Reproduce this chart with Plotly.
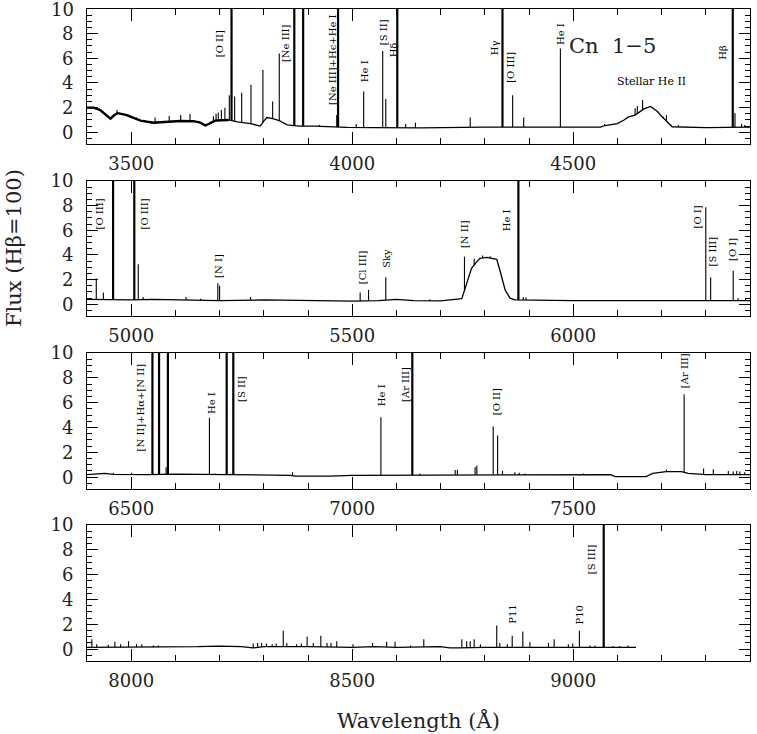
import numpy as np
import plotly.graph_objects as go

# ---------------- data ----------------
panel_ranges = [(3400, 4900), (4900, 6400), (6400, 7900), (7900, 9400)]
y_ticks = [0, 2, 4, 6, 8, 10]
x_tick_labels = [[3500, 4000, 4500], [5000, 5500, 6000], [6500, 7000, 7500], [8000, 8500, 9000]]
OFF = 14.0  # lines that run off the top of a panel

# panel 1 continuum
cont1_wl = [3400, 3415, 3430, 3445, 3453, 3462, 3470, 3490, 3505, 3521, 3550, 3580, 3611, 3640, 3655,
            3668, 3680, 3690, 3720, 3740, 3770, 3792, 3800, 3807, 3820, 3835, 3853, 3880, 3913, 3950,
            3989, 4050, 4155, 4300, 4450, 4562, 4572, 4600, 4615, 4625, 4640, 4660, 4675, 4690, 4700,
            4713, 4724, 4800, 4860, 4900]
cont1_fx = [2.0, 2.0, 1.8, 1.3, 1.1, 1.4, 1.55, 1.4, 1.2, 0.95, 0.78, 0.85, 0.92, 0.9, 0.8,
            0.55, 0.75, 0.95, 1.0, 0.85, 0.7, 0.5, 0.9, 1.2, 1.1, 0.95, 0.6, 0.5, 0.5, 0.45,
            0.4, 0.38, 0.35, 0.42, 0.42, 0.42, 0.55, 0.7, 1.0, 1.25, 1.4, 1.9, 2.1, 1.7, 1.3,
            0.85, 0.45, 0.38, 0.38, 0.42]
weak1_wl = [3468, 3512, 3529, 3554, 3586, 3612, 3633, 3686, 3692, 3697, 3704, 3712, 3722, 3734, 3750,
            3771, 3798, 3820, 3835, 3926, 3965, 4009, 4026, 4069, 4076, 4121, 4143, 4267, 4363, 4388,
            4471, 4571, 4640, 4645, 4657, 4704, 4711, 4738, 4866, 4881, 4888]
weak1_pk = [1.8, 1.2, 1.0, 1.2, 1.32, 1.4, 1.48, 1.3, 1.5, 1.6, 1.8, 2.0, 3.0, 2.9, 3.2,
            3.85, 5.05, 2.5, 6.4, 0.6, 1.4, 0.67, 3.3, 6.6, 2.7, 0.67, 0.78, 1.2, 3.0, 1.2,
            6.8, 0.67, 1.95, 2.13, 2.62, 1.27, 1.4, 0.6, 1.54, 0.67, 0.6]
strong1_wl = [3727, 3869, 3889, 3968, 4102, 4340, 4861]

# panel 2 continuum
cont2_wl = [4900, 4950, 5000, 5050, 5100, 5200, 5300, 5400, 5500, 5560, 5600, 5640, 5700, 5748,
            5759, 5770, 5782, 5789, 5804, 5827, 5834, 5846, 5857, 5868, 6000, 6200, 6400]
cont2_fx = [0.4, 0.35, 0.35, 0.4, 0.35, 0.3, 0.35, 0.3, 0.25, 0.3, 0.4, 0.3, 0.28, 0.45,
            1.7, 2.92, 3.46, 3.73, 3.8, 3.65, 2.78, 1.16, 0.5, 0.35, 0.3, 0.28, 0.3]
weak2_wl = [4921, 4937, 5016, 5027, 5046, 5124, 5157, 5196, 5200, 5270, 5518, 5537, 5576, 5676,
            5754, 5776, 5795, 5800, 5812, 5887, 5893, 6300, 6311, 6362, 6373, 6390]
weak2_pk = [2.1, 0.95, 3.24, 0.6, 0.45, 0.6, 0.45, 1.7, 1.5, 0.6, 0.95, 1.16, 2.2, 0.4,
            3.86, 3.7, 3.95, 3.8, 3.9, 0.6, 0.55, 7.87, 2.19, 2.73, 0.5, 0.5]
strong2_wl = [4959, 5007, 5876]

# panel 3 continuum
cont3_wl = [6400, 6430, 6440, 6460, 6500, 6540, 6600, 6700, 6800, 6860, 6870, 6950, 7000, 7100,
            7200, 7300, 7400, 7500, 7585, 7595, 7665, 7680, 7710, 7745, 7760, 7800, 7900]
cont3_fx = [0.2, 0.25, 0.3, 0.22, 0.2, 0.2, 0.25, 0.2, 0.2, 0.15, 0.08, 0.08, 0.15, 0.15,
            0.2, 0.2, 0.2, 0.2, 0.2, 0.05, 0.05, 0.3, 0.45, 0.45, 0.3, 0.2, 0.2]
weak3_wl = [6460, 6501, 6579, 6677, 6690, 6865, 7065, 7153, 7233, 7238, 7278, 7282, 7319, 7329,
            7340, 7368, 7378, 7391, 7523, 7711, 7751, 7795, 7817, 7851, 7862, 7870, 7877, 7888]
weak3_pk = [0.35, 0.35, 0.8, 4.78, 0.3, 0.4, 4.83, 0.3, 0.57, 0.6, 0.8, 0.92, 4.08, 3.35,
            0.5, 0.4, 0.35, 0.3, 0.3, 0.6, 6.67, 0.7, 0.65, 0.5, 0.45, 0.5, 0.45, 0.4]
strong3_wl = [6548, 6563, 6583, 6716, 6731, 7136]

# panel 4 continuum
cont4_wl = [7900, 8000, 8100, 8150, 8200, 8250, 8275, 8300, 8400, 8500, 8550, 8600, 8700, 8720,
            8740, 8800, 8900, 9000, 9100, 9142]
cont4_fx = [0.15, 0.15, 0.15, 0.2, 0.25, 0.2, 0.1, 0.2, 0.2, 0.15, 0.2, 0.15, 0.2, 0.1,
            0.1, 0.15, 0.15, 0.15, 0.15, 0.15]
weak4_wl = [7911, 7922, 7948, 7963, 7976, 7994, 8012, 8024, 8050, 8061, 8276, 8286, 8295, 8306,
            8319, 8328, 8344, 8352, 8374, 8385, 8398, 8412, 8429, 8443, 8452, 8465, 8502, 8546,
            8578, 8597, 8632, 8662, 8748, 8759, 8767, 8776, 8790, 8827, 8834, 8851, 8862, 8886,
            8902, 8944, 8957, 8989, 8999, 9014, 9038, 9049, 9090, 9105, 9124]
weak4_pk = [0.81, 0.4, 0.35, 0.6, 0.4, 0.65, 0.4, 0.4, 0.3, 0.3, 0.45, 0.5, 0.5, 0.45,
            0.4, 0.45, 1.48, 0.5, 0.4, 0.45, 1.0, 0.5, 1.08, 0.5, 0.5, 0.65, 0.4, 0.5,
            0.6, 0.6, 0.3, 0.8, 0.8, 0.65, 0.65, 0.8, 0.4, 1.9, 0.5, 0.4, 1.08, 1.43,
            0.55, 0.5, 0.8, 0.4, 0.45, 1.48, 0.3, 0.3, 0.25, 0.25, 0.3]
strong4_wl = [9069]

# line identifications: (text, wavelength, flux position)
labels1 = [("[O II]", 3699, 7.16), ("[Ne III]", 3848, 7.24), ("[Ne III]+Hϵ+He I", 3954, 5.86),
           ("He I", 4027, 4.97), ("[S II]", 4070, 8.13), ("Hδ", 4093, 6.67), ("Hγ", 4321, 6.83),
           ("[O III]", 4359, 5.3), ("He I", 4470, 7.97), ("Hβ", 4838, 6.5)]
labels2 = [("[O III]", 4928, 7.32), ("[O III]", 5030, 7.32), ("[N I]", 5196, 3.1),
           ("[Cl III]", 5525, 3.03), ("Sky", 5576, 3.75), ("[N II]", 5753, 5.7), ("He I", 5851, 6.84),
           ("[O I]", 6279, 7.08), ("[S III]", 6315, 4.32), ("[O I]", 6359, 4.48)]
labels3 = [("[N II]+Hα+[N II]", 6520, 5.62), ("He I", 6682, 5.94), ("[S II]", 6750, 7.08),
           ("He I", 7067, 6.59), ("[Ar III]", 7119, 7.49), ("[O II]", 7327, 6.1), ("[Ar III]", 7751, 8.55)]
labels4 = [("P11", 8864, 2.78), ("P10", 9015, 2.78), ("[S III]", 9040, 7.24)]

object_name = "Cn  1−5"
bump_label = "Stellar He II"

panels = [
    (cont1_wl, cont1_fx, weak1_wl, weak1_pk, strong1_wl, labels1),
    (cont2_wl, cont2_fx, weak2_wl, weak2_pk, strong2_wl, labels2),
    (cont3_wl, cont3_fx, weak3_wl, weak3_pk, strong3_wl, labels3),
    (cont4_wl, cont4_fx, weak4_wl, weak4_pk, strong4_wl, labels4),
]

# ---------------- figure ----------------
W, H = 757, 734
ml, mr, mt, mb = 87, 7, 9, 73
plot_w = W - ml - mr
plot_h = H - mt - mb
panel_px = [(9, 144), (181, 316), (353, 489), (525, 661)]
YMIN, YMAX = -0.95, 10

SERIF = "DejaVu Serif"
TICKFONT = dict(family=SERIF, size=18, color="#222")
fig = go.Figure()
annotations = []

for i, (cw, cf, ww, wp, sw, labs) in enumerate(panels):
    n = i + 1
    xa = "x" if n == 1 else f"x{n}"
    ya = "y" if n == 1 else f"y{n}"

    # emission lines as vertical segments rising from the continuum
    lx, ly = [], []
    for lam, pk in zip(ww, wp):
        b = float(np.interp(lam, cw, cf))
        lx += [lam, lam, None]
        ly += [b, pk, None]
    sx, sy = [], []
    for lam in sw:
        b = float(np.interp(lam, cw, cf))
        sx += [lam, lam, None]
        sy += [b, OFF, None]

    fig.add_trace(go.Scatter(x=cw, y=cf, mode="lines", xaxis=xa, yaxis=ya,
                             line=dict(color="black", width=1.3), hoverinfo="skip", showlegend=False))
    if n == 1:
        # the noisy blue end of the spectrum is drawn heavier in the reference
        blue = [k for k, w in enumerate(cw) if w <= 3720]
        fig.add_trace(go.Scatter(x=[cw[k] for k in blue], y=[cf[k] for k in blue], mode="lines",
                                 xaxis=xa, yaxis=ya, line=dict(color="black", width=2.4),
                                 hoverinfo="skip", showlegend=False))
    fig.add_trace(go.Scatter(x=lx, y=ly, mode="lines", xaxis=xa, yaxis=ya,
                             line=dict(color="black", width=1.1), hoverinfo="skip", showlegend=False))
    fig.add_trace(go.Scatter(x=sx, y=sy, mode="lines", xaxis=xa, yaxis=ya,
                             line=dict(color="black", width=2.2), hoverinfo="skip", showlegend=False))

    top, bot = panel_px[i]
    dom = [(H - mb - bot) / plot_h, (H - mb - top) / plot_h]
    lo, hi = panel_ranges[i]
    xkey = "xaxis" if n == 1 else f"xaxis{n}"
    ykey = "yaxis" if n == 1 else f"yaxis{n}"
    fig.layout[xkey] = dict(
        range=[lo, hi], domain=[0, 1], anchor=ya, showgrid=False, zeroline=False, automargin=False,
        showline=True, linecolor="black", linewidth=1, mirror="allticks",
        ticks="inside", ticklen=12, tickcolor="black", tickwidth=1,
        tickvals=x_tick_labels[i], ticktext=[str(v) for v in x_tick_labels[i]],
        minor=dict(ticks="inside", ticklen=6, dtick=100, tick0=0, tickcolor="black", showgrid=False),
        tickfont=TICKFONT, ticklabelstandoff=3,
    )
    # the top "10" of the first panel would be dropped at the page edge, so it is drawn as text
    ytext = [str(v) for v in y_ticks]
    if n == 1:
        ytext[-1] = ""
    fig.layout[ykey] = dict(
        range=[YMIN, YMAX], domain=dom, anchor=xa, showgrid=False, zeroline=False, automargin=False,
        showline=True, linecolor="black", linewidth=1, mirror="allticks",
        ticks="inside", ticklen=11, tickcolor="black", tickwidth=1,
        tickvals=y_ticks, ticktext=ytext,
        minor=dict(ticks="inside", ticklen=5, dtick=0.5, tick0=0, tickcolor="black", showgrid=False),
        tickfont=TICKFONT, ticklabelstandoff=9,
    )

    for text, lam, yv in labs:
        annotations.append(dict(x=lam, y=yv, xref=xa, yref=ya, text=text, textangle=-90,
                                showarrow=False, xanchor="center", yanchor="middle",
                                font=dict(family=SERIF, size=10, color="black")))

annotations.append(dict(x=(75 - ml) / plot_w, y=y_ticks[-1], xref="paper", yref="y",
                        text=str(y_ticks[-1]), showarrow=False, xanchor="right", yanchor="middle",
                        font=TICKFONT, borderpad=0))
annotations.append(dict(x=4590, y=6.98, xref="x", yref="y", text=object_name, showarrow=False,
                        xanchor="center", yanchor="middle",
                        font=dict(family=SERIF, size=21, color="#222")))
annotations.append(dict(x=4678, y=4.08, xref="x", yref="y", text=bump_label, showarrow=False,
                        xanchor="center", yanchor="middle",
                        font=dict(family=SERIF, size=11, color="black")))
annotations.append(dict(x=0.5, y=(H - mb - 720) / plot_h, xref="paper", yref="paper",
                        text="Wavelength (Å)", showarrow=False, xanchor="center", yanchor="middle",
                        font=dict(family=SERIF, size=21, color="#222")))
annotations.append(dict(x=(14 - ml) / plot_w, y=(H - mb - 248) / plot_h, xref="paper", yref="paper",
                        text="Flux (Hβ=100)", textangle=-90, showarrow=False,
                        xanchor="center", yanchor="middle",
                        font=dict(family=SERIF, size=21, color="#222")))

fig.update_layout(width=W, height=H, margin=dict(l=ml, r=mr, t=mt, b=mb, autoexpand=False),
                  plot_bgcolor="white", paper_bgcolor="white", annotations=annotations,
                  showlegend=False)

fig.write_html("out.html")
